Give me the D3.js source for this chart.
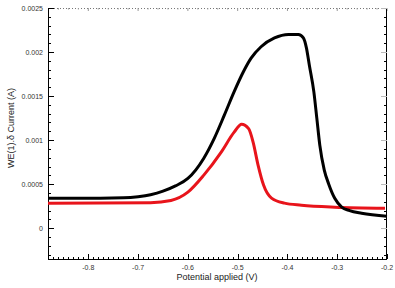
<!DOCTYPE html>
<html>
<head>
<meta charset="utf-8">
<script src="https://cdn.jsdelivr.net/npm/d3@7"></script>
<style>
  body { margin: 0; background: #fff; }
  text { font-family: "Liberation Sans", Arial, sans-serif; }
</style>
</head>
<body>
<svg id="chart" width="395" height="288"></svg>
<script>
// potential (V) and current (A)
const blackV = [-0.881, -0.776, -0.729, -0.700, -0.675, -0.650, -0.625, -0.600, -0.568, -0.547, -0.527, -0.507,
    -0.489, -0.473, -0.453, -0.426, -0.398, -0.378, -0.368, -0.362, -0.356, -0.347, -0.341, -0.335, -0.326,
    -0.317, -0.305, -0.291, -0.275, -0.251, -0.2];
const blackI = [0.000341, 0.000341, 0.000345, 0.000358, 0.000380, 0.000420, 0.000480, 0.000565, 0.000795, 0.00102,
    0.00128, 0.00155, 0.00177, 0.00193, 0.00206, 0.00216, 0.00220, 0.00220, 0.00216, 0.00205, 0.00185, 0.00155,
    0.00125, 0.000943, 0.000660, 0.000500, 0.000340, 0.000240, 0.000200, 0.000170, 0.000136];

const redV = [-0.881, -0.675, -0.634, -0.600, -0.568, -0.533, -0.507, -0.492, -0.478, -0.469, -0.459, -0.448,
    -0.432, -0.406, -0.372, -0.305, -0.204];
const redI = [0.000284, 0.000290, 0.000315, 0.000409, 0.000602, 0.000864, 0.00109, 0.00118, 0.00113, 0.000977,
    0.000716, 0.000489, 0.000341, 0.000284, 0.000261, 0.000239, 0.000227];

const xTicks = [-0.8, -0.7, -0.6, -0.5, -0.4, -0.3, -0.2];
const yTicks = [0, 0.0005, 0.001, 0.0015, 0.002, 0.0025];
const yTickLabels = ["0", "0.0005", "0.001", "0.0015", "0.002", "0.0025"];

const svg = d3.select("#chart");
const mLeft = 48, mRight = 387, mTop = 8, mBottom = 259;

const x = d3.scaleLinear().domain([-0.881, -0.2]).range([mLeft, mRight]);
const y = d3.scaleLinear().domain([-0.00035, 0.0025]).range([mBottom, mTop]);

// top border: dotted grey with small ticks
svg.append("line")
    .attr("x1", mLeft).attr("x2", mRight).attr("y1", mTop + 0.5).attr("y2", mTop + 0.5)
    .attr("stroke", "#777").attr("stroke-dasharray", "1,2");
svg.append("g").selectAll("line")
    .data(d3.range(-0.88, -0.195, 0.02))
    .enter().append("line")
    .attr("x1", d => x(d)).attr("x2", d => x(d))
    .attr("y1", mTop).attr("y2", d => mTop + (Math.abs(Math.round(d * 10) - d * 10) < 0.01 ? 3 : 1.5))
    .attr("stroke", "#999");

// bottom axis
const xMinor = d3.range(-0.88, -0.195, 0.01);
svg.append("line")
    .attr("x1", mLeft).attr("x2", mRight).attr("y1", mBottom + 0.5).attr("y2", mBottom + 0.5)
    .attr("stroke", "#000");
svg.append("g").selectAll("line")
    .data(xMinor)
    .enter().append("line")
    .attr("x1", d => Math.round(x(d)) + 0.5).attr("x2", d => Math.round(x(d)) + 0.5)
    .attr("y1", mBottom).attr("y2", mBottom - 2)
    .attr("stroke", "#000");
svg.append("g").selectAll("line")
    .data(xTicks)
    .enter().append("line")
    .attr("x1", d => Math.round(x(d)) + 0.5).attr("x2", d => Math.round(x(d)) + 0.5)
    .attr("y1", mBottom).attr("y2", mBottom - 5)
    .attr("stroke", "#000");
svg.append("g").selectAll("text")
    .data(xTicks)
    .enter().append("text")
    .attr("x", d => x(d)).attr("y", mBottom + 11)
    .attr("text-anchor", "middle")
    .attr("font-size", 7).attr("fill", "#333")
    .text(d => d.toFixed(1));

// left and right axes
const yMinor = d3.range(-0.0003, 0.00251, 0.0001);
[mLeft, mRight].forEach(function (ax) {
    const dir = ax === mLeft ? 1 : -1;
    svg.append("line")
        .attr("x1", ax + 0.5 * dir).attr("x2", ax + 0.5 * dir).attr("y1", mTop).attr("y2", mBottom)
        .attr("stroke", "#000");
    svg.append("g").selectAll("line")
        .data(yMinor)
        .enter().append("line")
        .attr("x1", ax).attr("x2", ax + 3 * dir)
        .attr("y1", d => Math.round(y(d)) + 0.5).attr("y2", d => Math.round(y(d)) + 0.5)
        .attr("stroke", "#000");
    svg.append("g").selectAll("line")
        .data(yTicks)
        .enter().append("line")
        .attr("x1", ax).attr("x2", ax + 6 * dir)
        .attr("y1", d => Math.round(y(d)) + 0.5).attr("y2", d => Math.round(y(d)) + 0.5)
        .attr("stroke", ax === mLeft ? "#000" : "#bbb");
});
svg.append("g").selectAll("text")
    .data(yTicks)
    .enter().append("text")
    .attr("x", mLeft - 5).attr("y", d => y(d) + 2.5)
    .attr("text-anchor", "end")
    .attr("font-size", 7).attr("fill", "#333")
    .text((d, i) => yTickLabels[i]);

// axis titles
svg.append("text")
    .attr("x", 217).attr("y", 280)
    .attr("text-anchor", "middle")
    .attr("font-size", 9).attr("fill", "#222")
    .text("Potential applied (V)");
svg.append("text")
    .attr("transform", "translate(14,128) rotate(-90)")
    .attr("text-anchor", "middle")
    .attr("font-size", 9).attr("fill", "#222")
    .text("WE(1).δ Current (A)");

// curves
const line = d3.line().x(d => x(d[0])).y(d => y(d[1])).curve(d3.curveMonotoneX);
svg.append("path")
    .datum(d3.zip(redV, redI))
    .attr("fill", "none").attr("stroke", "#e8141b").attr("stroke-width", 3)
    .attr("d", line);
svg.append("path")
    .datum(d3.zip(blackV, blackI))
    .attr("fill", "none").attr("stroke", "#000").attr("stroke-width", 3)
    .attr("d", line);
</script>
</body>
</html>
